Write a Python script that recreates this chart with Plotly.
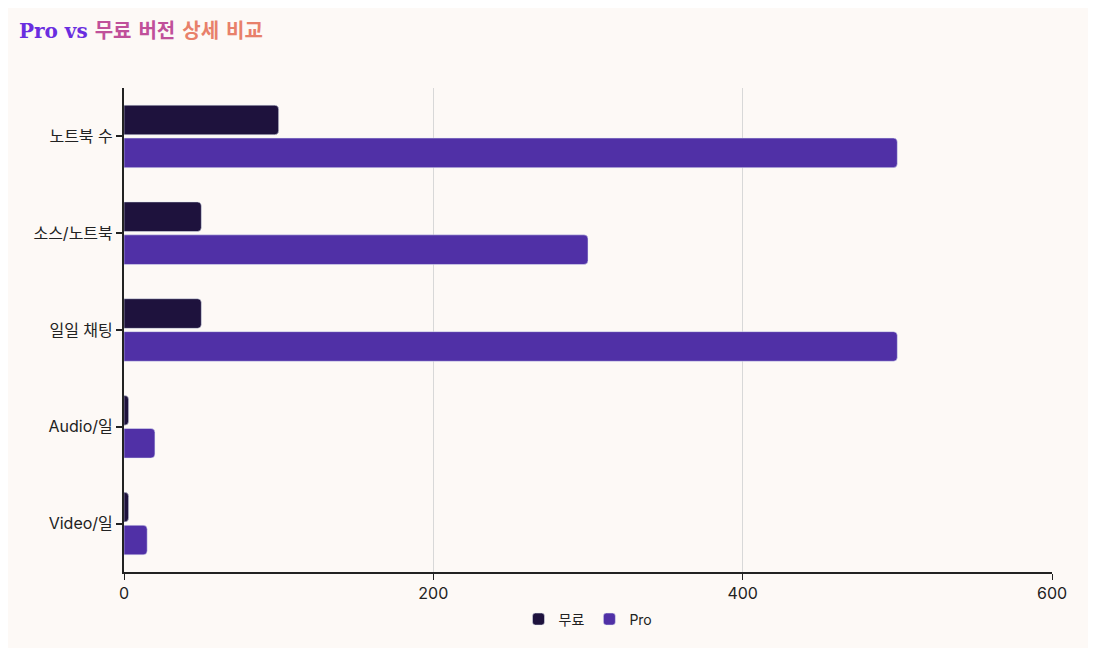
import plotly.graph_objects as go

categories = ["노트북 수", "소스/노트북", "일일 채팅", "Audio/일", "Video/일"]
free_vals = [100, 50, 50, 3, 3]
pro_vals = [500, 300, 500, 20, 15]

fig = go.Figure()
fig.add_bar(y=categories, x=free_vals, orientation="h", name="무료",
            marker=dict(color="#1e123d", cornerradius=4))
fig.add_bar(y=categories, x=pro_vals, orientation="h", name="Pro",
            marker=dict(color="#5030a6", cornerradius=4))

title = ("<b><span style='color:#6a2ee0'>Pro vs</span> "
         "<span style='color:#c0509a'>무료 버전</span> "
         "<span style='color:#e8806a'>상세 비교</span></b>")

fig.update_layout(
    width=1096, height=648,
    paper_bgcolor="#fdf9f6", plot_bgcolor="#fdf9f6",
    font=dict(family="Inter, Noto Sans CJK KR", size=16, color="#222"),
    title=dict(text=title, x=0.01, y=0.975, xanchor="left", yanchor="top",
               font=dict(family="DejaVu Serif, Noto Sans CJK KR", size=20)),
    barmode="group", bargap=0.32, bargroupgap=0.1,
    margin=dict(l=116, r=52, t=80, b=84),
    legend=dict(orientation="h", x=0.5, xanchor="center", y=-0.065, yanchor="top",
                font=dict(size=14)),
    xaxis=dict(range=[0, 600], dtick=200, showgrid=True, gridcolor="#d8d8d8",
               showline=True, linecolor="#222", linewidth=2, ticks="outside",
               ticklen=6, tickcolor="#222", zeroline=False),
    yaxis=dict(autorange="reversed", showline=True, linecolor="#222", linewidth=2,
               ticks="outside", ticklen=6, tickcolor="#222", tickwidth=2,
               showgrid=False),
)
fig.write_html("out.html")
